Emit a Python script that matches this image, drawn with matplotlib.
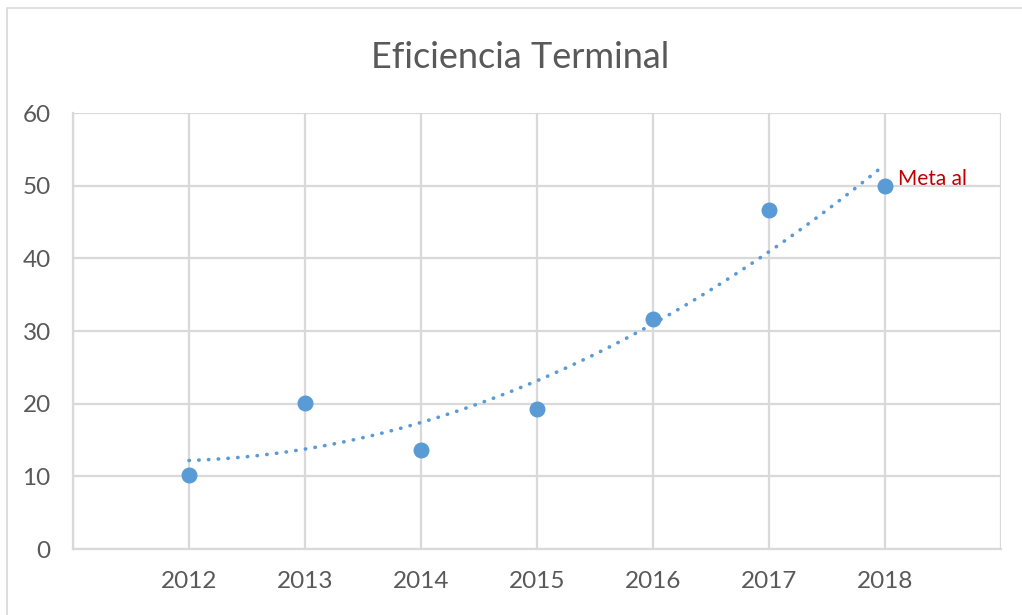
import numpy as np
import matplotlib
matplotlib.use("Agg")
import matplotlib.pyplot as plt
from matplotlib.patches import Rectangle

# datos
anios = [2012, 2013, 2014, 2015, 2016, 2017, 2018]
eficiencia = [10.2, 20.1, 13.6, 19.3, 31.6, 46.6, 49.9]
titulo = "Eficiencia Terminal"
etiqueta_meta = "Meta al"

plt.rcParams['font.family'] = ['Lato', 'DejaVu Sans']
gris_texto = '#595959'
gris_rejilla = '#D9D9D9'
azul = '#5B9BD5'

fig = plt.figure(figsize=(10.22, 6.15), dpi=100)
ax = fig.add_axes([73/1022, 1 - 549/615, (1001 - 73)/1022, (549 - 113)/615])

# linea de tendencia polinomica (orden 2), como en Excel
coef = np.polyfit(anios, eficiencia, 2)
xs = np.linspace(anios[0], anios[-1], 200)
ax.plot(xs, np.polyval(coef, xs), color=azul, lw=2.6,
        linestyle=(0, (0.1, 2.6)), dash_capstyle='round', zorder=2)

ax.plot(anios, eficiencia, 'o', color=azul, markersize=10.5, zorder=3)

ax.annotate(etiqueta_meta, (anios[-1], eficiencia[-1]), xytext=(9, 5),
            textcoords='offset points', va='center', ha='left',
            color='#C00000', fontsize=15)

ax.set_xlim(2011, 2019)
ax.set_ylim(0, 60)
ax.set_xticks(range(2011, 2020))
ax.set_xticklabels([''] + [str(a) for a in anios] + [''])
ax.set_yticks(range(0, 61, 10))
ax.grid(True, color=gris_rejilla, lw=1.6)
ax.set_axisbelow(True)
for s in ax.spines.values():
    s.set_visible(False)
for lado in ['left', 'bottom']:
    ax.spines[lado].set_visible(True)
    ax.spines[lado].set_color(gris_rejilla)
    ax.spines[lado].set_linewidth(1.6)
ax.tick_params(length=0, labelsize=17.5, labelcolor=gris_texto)
ax.tick_params(axis='y', pad=16)
ax.tick_params(axis='x', pad=16)

fig.text(520/1022, 1 - 57/615, titulo, ha='center', va='center',
         fontsize=26, color=gris_texto)

# borde del grafico
fig.patches.append(Rectangle((7/1022, -0.01), 1.1, 1 - 7.5/615 + 0.01,
                             transform=fig.transFigure, fill=False,
                             edgecolor=gris_rejilla, lw=1.2))

fig.savefig("out.png", dpi=100)
